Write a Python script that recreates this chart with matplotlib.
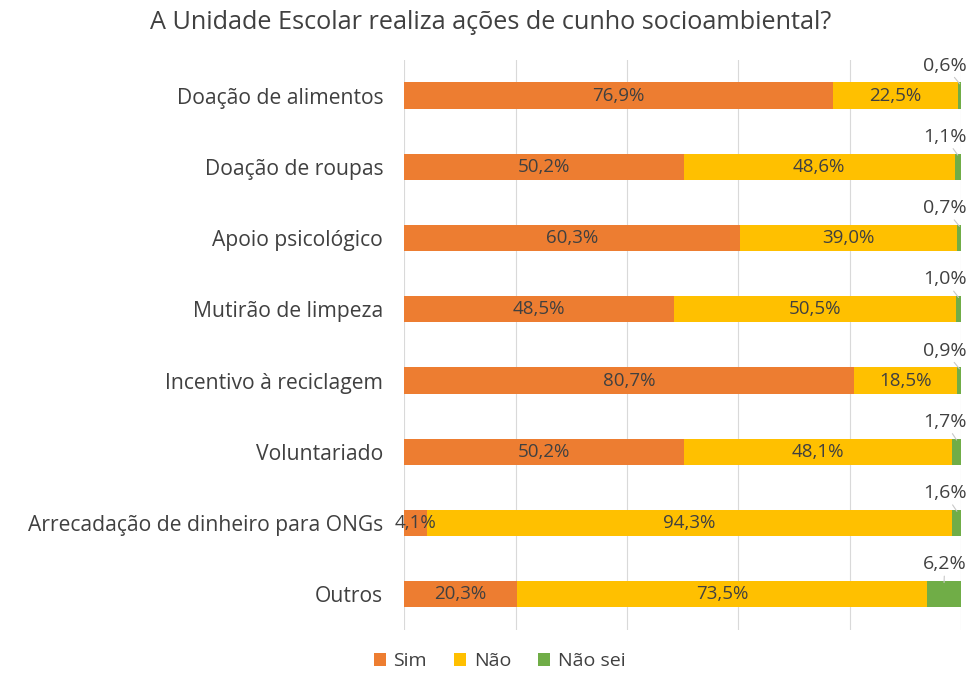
import numpy as np
import matplotlib.pyplot as plt
from matplotlib.ticker import MultipleLocator

# Respostas por ação (percentual)
categorias = [
    'Doação de alimentos',
    'Doação de roupas',
    'Apoio psicológico',
    'Mutirão de limpeza',
    'Incentivo à reciclagem',
    'Voluntariado',
    'Arrecadação de dinheiro para ONGs',
    'Outros',
]
sim = [76.9, 50.2, 60.3, 48.5, 80.7, 50.2, 4.1, 20.3]
nao = [22.5, 48.6, 39.0, 50.5, 18.5, 48.1, 94.3, 73.5]
nao_sei = [0.6, 1.1, 0.7, 1.0, 0.9, 1.7, 1.6, 6.2]

cor_sim = '#ED7D31'
cor_nao = '#FFC000'
cor_nao_sei = '#70AD47'
cor_texto = '#404040'

plt.rcParams['font.family'] = ['Open Sans', 'DejaVu Sans']

fig, ax = plt.subplots(figsize=(9.76, 6.73), dpi=100)
fig.subplots_adjust(left=0.414, right=0.985, top=0.911, bottom=0.064)

y = np.arange(len(categorias))
altura = 0.37

sim_a = np.array(sim)
nao_a = np.array(nao)
ns_a = np.array(nao_sei)

b1 = ax.barh(y, sim_a, height=altura, color=cor_sim, label='Sim', zorder=2)
b2 = ax.barh(y, nao_a, left=sim_a, height=altura, color=cor_nao, label='Não', zorder=2)
b3 = ax.barh(y, ns_a, left=sim_a + nao_a, height=altura, color=cor_nao_sei,
             label='Não sei', zorder=2)

def fmt(v):
    return f'{v:.1f}%'.replace('.', ',')

for i in range(len(categorias)):
    ax.text(sim_a[i] / 2, y[i], fmt(sim_a[i]), ha='center', va='center',
            fontsize=13.5, color=cor_texto, zorder=3)
    ax.text(sim_a[i] + nao_a[i] / 2, y[i], fmt(nao_a[i]), ha='center', va='center',
            fontsize=13.5, color=cor_texto, zorder=3)
    # rótulo do "Não sei" acima da barra com linha de chamada
    xfim = sim_a[i] + nao_a[i] + ns_a[i] / 2
    ax.annotate(fmt(ns_a[i]), xy=(xfim, y[i] - altura / 2 + 0.02),
                xytext=(97.0, y[i] - 0.42), ha='center', va='center',
                fontsize=14, color=cor_texto, zorder=3, annotation_clip=False,
                arrowprops=dict(arrowstyle='-', color='#c8c8c8', lw=0.8,
                                shrinkA=7, shrinkB=0))

ax.set_yticks(y)
ax.set_yticklabels(categorias, fontsize=15.2, color=cor_texto)
ax.set_ylim(len(categorias) - 0.5, -0.5)
ax.set_xlim(0, 100)
ax.xaxis.set_major_locator(MultipleLocator(20))
ax.set_xticklabels([])
ax.tick_params(axis='both', length=0)
ax.tick_params(axis='y', pad=15)
ax.grid(axis='x', color='#d9d9d9', lw=0.8, zorder=0)
for s in ax.spines.values():
    s.set_visible(False)

fig.suptitle('A Unidade Escolar realiza ações de cunho socioambiental?',
             fontsize=18.2, color=cor_texto, x=0.503, y=0.985, va='top')

fig.legend(handles=[b1, b2, b3], loc='lower center', ncol=3, frameon=False,
           fontsize=14, bbox_to_anchor=(0.512, -0.022), handlelength=0.6,
           handleheight=0.6, handletextpad=0.4, columnspacing=1.4,
           labelcolor=cor_texto)

fig.savefig('out.png', dpi=100)
